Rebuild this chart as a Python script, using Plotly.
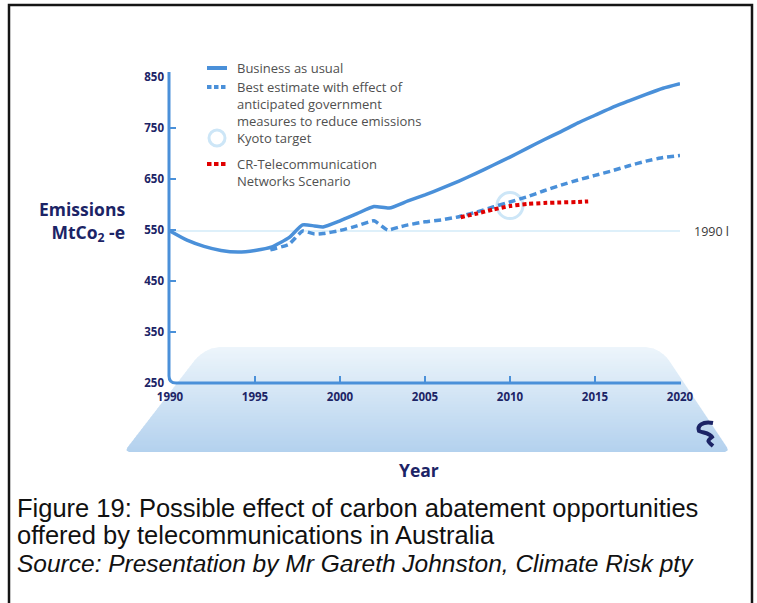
import plotly.graph_objects as go

# ---- data -------------------------------------------------------------
bau_years = [1990, 1991, 1992, 1993, 1994, 1995, 1996, 1997, 1997.8, 1998.5,
             1999, 2000, 2001, 2002, 2002.9, 2004, 2005, 2006, 2007, 2008,
             2009, 2010, 2011, 2012, 2013, 2014, 2015, 2016, 2017, 2018,
             2019, 2020]
bau_values = [548, 530, 518, 510, 507, 510, 517, 535, 560, 558,
              556, 568, 582, 596, 593, 607, 619, 632, 646, 661,
              677, 693, 710, 727, 743, 760, 775, 790, 803, 816,
              828, 837]

best_years = [1995.9, 1997, 1997.8, 1998.5, 1999, 2000, 2001, 2002, 2002.8,
              2003.5, 2004, 2005, 2006, 2007, 2008, 2009, 2010, 2011, 2012,
              2013, 2014, 2015, 2016, 2017, 2018, 2019, 2020]
best_values = [511, 522, 548, 542, 543, 549, 558, 568, 550,
               556, 560, 566, 570, 576, 585, 595, 605, 615, 627,
               638, 648, 657, 666, 676, 685, 692, 696]

cr_years = [2007.1, 2008, 2009, 2010, 2011, 2012, 2013, 2014, 2014.6]
cr_values = [575, 582, 590, 597, 601, 603, 604, 605, 606]

kyoto_year = [2010]
kyoto_value = [598]

level_1990 = 548
x_range = [1990, 2020]

y_ticks = [250, 350, 450, 550, 650, 750, 850]
x_ticks = [1990, 1995, 2000, 2005, 2010, 2015, 2020]

legend_labels = [
    ["Business as usual"],
    ["Best estimate with effect of", "anticipated government",
     "measures to reduce emissions"],
    ["Kyoto target"],
    ["CR-Telecommunication", "Networks Scenario"],
]

# ---- styling ----------------------------------------------------------
W, H = 757, 603
ML, MR, MT, MB = 170, 77, 77, 220
PW, PH = W - ML - MR, H - MT - MB

BLUE = "#4a90d9"
NAVY = "#1c2466"
RED = "#e00000"
RING = "#cde6f7"
FONT = "Open Sans"


def px(x):
    """Canvas pixel column -> paper x."""
    return (x - ML) / PW


def py(y):
    """Canvas pixel row -> paper y."""
    return (H - MB - y) / PH


fig = go.Figure()

# 1990 level reference line
fig.add_trace(go.Scatter(
    x=x_range, y=[level_1990, level_1990], mode="lines",
    line=dict(color="#d3ebf9", width=1.6), hoverinfo="skip"))

fig.add_trace(go.Scatter(
    x=kyoto_year, y=kyoto_value, mode="markers", name="Kyoto target",
    marker=dict(size=26, color="rgba(255,255,255,0)",
                line=dict(color=RING, width=3))))

fig.add_trace(go.Scatter(
    x=bau_years, y=bau_values, mode="lines", name="Business as usual",
    line=dict(color=BLUE, width=3.5, shape="spline", smoothing=0.5)))

fig.add_trace(go.Scatter(
    x=best_years, y=best_values, mode="lines", name="Best estimate",
    line=dict(color=BLUE, width=3.5, dash="7px,4px", shape="spline",
              smoothing=0.4)))

fig.add_trace(go.Scatter(
    x=cr_years, y=cr_values, mode="lines",
    name="CR-Telecommunication Networks Scenario",
    line=dict(color=RED, width=4, dash="4px,3px", shape="spline",
              smoothing=0.5)))

shapes = []

# shaded floor under the x axis, stacked bands for a vertical gradient
top, bot = 347.0, 452.0
tl, bl = 205.0, 124.0
tr, br = 660.0, 730.0
c_top = (237, 245, 251)
c_bot = (179, 209, 238)
R_top, R_bot = 14.0, 5.0
n = 70


def inset(y):
    d = y - top
    if d < R_top:
        t = (R_top - d) / R_top
        return R_top * (1 - (1 - t * t) ** 0.5)
    e = bot - y
    if e < R_bot:
        t = (R_bot - e) / R_bot
        return R_bot * (1 - (1 - t * t) ** 0.5)
    return 0.0


def edges(y):
    f = (y - top) / (bot - top)
    xl = tl + (bl - tl) * f + inset(y)
    xr = tr + (br - tr) * f - inset(y)
    return xl, xr


step = (bot - top) / n
for i in range(n):
    y0 = top + i * step
    y1 = min(bot, y0 + step + 0.6)
    f = (i + 0.5) / n
    col = tuple(round(c_top[k] + (c_bot[k] - c_top[k]) * f) for k in range(3))
    l0, r0 = edges(y0)
    l1, r1 = edges(y1)
    path = (f"M {px(l0)},{py(y0)} L {px(r0)},{py(y0)} "
            f"L {px(r1)},{py(y1)} L {px(l1)},{py(y1)} Z")
    shapes.append(dict(type="path", path=path, xref="paper", yref="paper",
                       fillcolor=f"rgb{col}", line=dict(width=0),
                       layer="below"))

# axis lines joined by a rounded corner
rc = 7
shapes.append(dict(
    type="path", xref="paper", yref="paper", layer="below",
    path=(f"M {px(169)},{py(72)} L {px(169)},{py(383 - rc)} "
          f"Q {px(169)},{py(383)} {px(169 + rc)},{py(383)} "
          f"L {px(681)},{py(383)}"),
    line=dict(color=BLUE, width=3)))

# small logo mark at the lower right
logo = [(713, 423), (702, 421), (697, 426), (699, 431), (704, 433),
        (710, 433), (712, 437), (707, 441), (713, 446)]
lp = f"M {px(logo[0][0])},{py(logo[0][1])} "
lp += f"C {px(logo[1][0])},{py(logo[1][1])} {px(logo[2][0])},{py(logo[2][1])} {px(logo[3][0])},{py(logo[3][1])} "
lp += f"C {px(logo[4][0])},{py(logo[4][1])} {px(logo[5][0])},{py(logo[5][1])} {px(logo[6][0])},{py(logo[6][1])} "
lp += f"C {px(logo[7][0])},{py(logo[7][1])} {px(logo[7][0])},{py(logo[7][1])} {px(logo[8][0])},{py(logo[8][1])}"
shapes.append(dict(type="path", path=lp, xref="paper", yref="paper",
                   line=dict(color=NAVY, width=4), layer="above"))

# outer frame
shapes.append(dict(type="rect", xref="paper", yref="paper",
                   x0=px(9), x1=px(752), y0=py(5), y1=py(615),
                   line=dict(color="#151515", width=2.5), layer="above"))

annotations = []

# ---- legend: symbols and label blocks --------------------------------
sym_x0, sym_x1, text_x = 207, 227, 235
first_rows = [68, 87, 138, 164]
leg_size = 13
line_h = 1.3 * leg_size
legend_text_font = dict(family=FONT, size=leg_size, color="#505050")

# solid line symbol
shapes.append(dict(type="line", xref="paper", yref="paper",
                   x0=px(sym_x0), x1=px(sym_x1),
                   y0=py(first_rows[0]), y1=py(first_rows[0]),
                   line=dict(color=BLUE, width=4)))
# dashed symbols (blue, red)
for row, col in ((first_rows[1], BLUE), (first_rows[3], RED)):
    for k in range(3):
        xa = sym_x0 + k * 7
        shapes.append(dict(type="line", xref="paper", yref="paper",
                           x0=px(xa), x1=px(xa + 4.5),
                           y0=py(row), y1=py(row),
                           line=dict(color=col, width=4)))
# ring symbol
cx, cy, r = 217, first_rows[2], 8
shapes.append(dict(type="circle", xref="paper", yref="paper",
                   x0=px(cx - r), x1=px(cx + r), y0=py(cy - r), y1=py(cy + r),
                   line=dict(color=RING, width=3)))

for lines, y_first in zip(legend_labels, first_rows):
    yc = y_first + (len(lines) - 1) * line_h / 2
    annotations.append(dict(
        x=px(text_x), y=py(yc), xref="paper", yref="paper",
        text="<br>".join(lines), align="left",
        showarrow=False, xanchor="left", yanchor="middle",
        font=legend_text_font))

annotations += [
    dict(x=2020, y=level_1990, xref="x", yref="y", text="1990 l",
         showarrow=False, xanchor="left", yanchor="middle", xshift=12,
         font=dict(family=FONT, size=12.5, color="#3a3a3a")),
    dict(x=px(127), y=py(221), xref="paper", yref="paper",
         text="Emissions<br>MtCo<sub>2</sub> -e", showarrow=False,
         xanchor="right", yanchor="middle", align="right",
         font=dict(family=FONT, size=17.5, color=NAVY, weight="bold")),
    dict(x=px(419), y=py(470), xref="paper", yref="paper", text="Year",
         showarrow=False, xanchor="center", yanchor="middle",
         font=dict(family=FONT, size=17.5, color=NAVY, weight="bold")),
]

caption = [
    ("Figure 19: Possible effect of carbon abatement opportunities", 508, "normal", 25.5),
    ("offered by telecommunications in Australia", 535, "normal", 25.5),
    ("Source: Presentation by Mr Gareth Johnston, Climate Risk pty", 563, "italic", 24.5),
]
for text, yc, style, size in caption:
    annotations.append(dict(
        x=px(15), y=py(yc), xref="paper", yref="paper", text=text,
        showarrow=False, xanchor="left", yanchor="middle",
        font=dict(family="Liberation Sans", size=size, color="#111111",
                  style=style)))

tick_font = dict(family=FONT, size=11.5, color=NAVY, weight="bold")

fig.update_layout(
    width=W, height=H,
    margin=dict(l=ML, r=MR, t=MT, b=MB, pad=0),
    paper_bgcolor="white", plot_bgcolor="rgba(0,0,0,0)",
    xaxis=dict(range=x_range, tickvals=x_ticks,
               ticktext=[str(v) for v in x_ticks],
               ticks="inside", ticklen=7, tickwidth=2, tickcolor=BLUE,
               showgrid=False, zeroline=False, showline=False,
               tickfont=tick_font, ticklabelstandoff=5),
    yaxis=dict(range=[250, 850], tickvals=y_ticks,
               ticktext=[str(v) for v in y_ticks],
               ticks="inside", ticklen=6, tickwidth=2, tickcolor=BLUE,
               showgrid=False, zeroline=False, showline=False,
               tickfont=tick_font, ticklabelstandoff=5),
    shapes=shapes,
    annotations=annotations,
    showlegend=False,
)

fig.write_html("out.html")
